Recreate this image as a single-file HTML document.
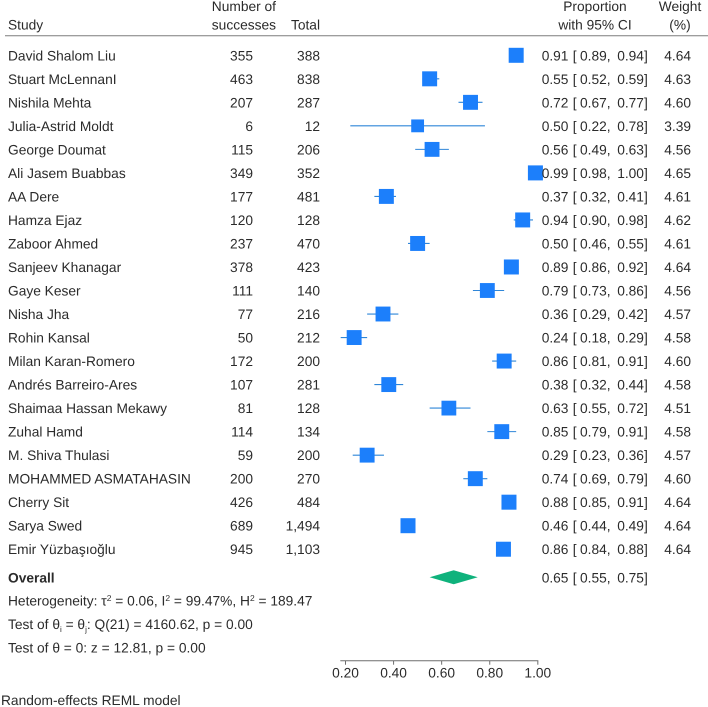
<!DOCTYPE html>
<html lang="en">
<head>
<meta charset="utf-8">
<title>Forest plot of proportions</title>
<style>
  html, body { margin: 0; padding: 0; background: #fff; }
  svg { display: block; }
  text { font-family: "Liberation Sans", "DejaVu Sans", sans-serif; font-size: 13.75px; fill: #2b2b2b; text-rendering: geometricPrecision; }
</style>
</head>
<body>
<svg id="chart" width="708" height="707" viewBox="0 0 708 707" xmlns="http://www.w3.org/2000/svg">
  <rect width="708" height="707" fill="#ffffff"/>
  <g>
    <text x="8" y="29.5">Study</text>
    <text x="276" y="11" text-anchor="end">Number of</text>
    <text x="276" y="29.5" text-anchor="end">successes</text>
    <text x="320" y="29.5" text-anchor="end">Total</text>
    <text x="595" y="11" text-anchor="middle">Proportion</text>
    <text x="595" y="29.5" text-anchor="middle">with 95% CI</text>
    <text x="680" y="11" text-anchor="middle">Weight</text>
    <text x="680" y="29.5" text-anchor="middle">(%)</text>
    <line x1="5" x2="708" y1="35.7" y2="35.7" stroke="#7d7d7d" stroke-width="1"/>
  </g>
  <g id="rows"></g>
  <g id="overall"></g>
  <g>
    <text x="8" y="605.6">Heterogeneity: τ<tspan dy="-4.5" font-size="8.5">2</tspan><tspan dy="4.5"> = 0.06, I</tspan><tspan dy="-4.5" font-size="8.5">2</tspan><tspan dy="4.5"> = 99.47%, H</tspan><tspan dy="-4.5" font-size="8.5">2</tspan><tspan dy="4.5"> = 189.47</tspan></text>
    <text x="8" y="629">Test of θ<tspan dy="3" font-size="8">i</tspan><tspan dy="-3"> = θ</tspan><tspan dy="3" font-size="8">j</tspan><tspan dy="-3">: Q(21) = 4160.62, p = 0.00</tspan></text>
    <text x="8" y="652.4">Test of θ = 0: z = 12.81, p = 0.00</text>
    <text x="1" y="705">Random-effects REML model</text>
  </g>
  <g id="axis"></g>
</svg>
<script>
const studies = ["David Shalom Liu","Stuart McLennanI","Nishila Mehta","Julia-Astrid Moldt","George Doumat","Ali Jasem Buabbas","AA Dere","Hamza Ejaz","Zaboor Ahmed","Sanjeev Khanagar","Gaye Keser","Nisha Jha","Rohin Kansal","Milan Karan-Romero","Andrés Barreiro-Ares","Shaimaa Hassan Mekawy","Zuhal Hamd","M. Shiva Thulasi","MOHAMMED ASMATAHASIN","Cherry Sit","Sarya Swed","Emir Yüzbaşıoğlu"];
const successes = ["355","463","207","6","115","349","177","120","237","378","111","77","50","172","107","81","114","59","200","426","689","945"];
const totals = ["388","838","287","12","206","352","481","128","470","423","140","216","212","200","281","128","134","200","270","484","1,494","1,103"];
const proportions = [0.91,0.55,0.72,0.50,0.56,0.99,0.37,0.937,0.50,0.89,0.79,0.356,0.236,0.86,0.38,0.63,0.85,0.29,0.74,0.88,0.46,0.857];
const lowers = [0.89,0.52,0.67,0.22,0.49,0.98,0.32,0.90,0.46,0.86,0.73,0.29,0.18,0.81,0.32,0.55,0.79,0.23,0.69,0.85,0.44,0.84];
const uppers = [0.94,0.59,0.77,0.78,0.63,1.00,0.41,0.98,0.55,0.92,0.86,0.42,0.29,0.91,0.44,0.72,0.91,0.36,0.79,0.91,0.49,0.88];
const weights = [4.64,4.63,4.60,3.39,4.56,4.65,4.61,4.62,4.61,4.64,4.56,4.57,4.58,4.60,4.58,4.51,4.58,4.57,4.60,4.64,4.64,4.64];
const overallEffect = [0.65];
const overallLower = [0.55];
const overallUpper = [0.75];
const tickValues = [0.20,0.40,0.60,0.80,1.00];

const SVG_NS = "http://www.w3.org/2000/svg";
const xScale = v => 345.5 + (v - 0.2) * 240.4;
const rowY = i => 55.3 + i * 23.52;
const markerSize = w => 15 * Math.sqrt(w / 4.64);
const TEXT_DROP = 5;

function make(parent, tag, attrs, content) {
  const el = document.createElementNS(SVG_NS, tag);
  for (const k in attrs) el.setAttribute(k, attrs[k]);
  if (content !== undefined) el.textContent = content;
  parent.appendChild(el);
  return el;
}

function ciCells(parent, y, p, lo, hi) {
  const base = y + TEXT_DROP;
  const a = make(parent, "text", { x: 541.7, y: base }, p.toFixed(2));
  
  
  const b = make(parent, "text", { x: 572.7, y: base }, "[");
  
  
  const c = make(parent, "text", { x: 580, y: base }, lo.toFixed(2) + ",");
  
  
  const d = make(parent, "text", { x: 617.2, y: base }, hi.toFixed(2) + "]");
  
  
}

const rowsGroup = document.getElementById("rows");
studies.forEach((name, i) => {
  const y = rowY(i);
  const base = y + TEXT_DROP;
  const row = make(rowsGroup, "g", {});
  
  

  const nameText = make(row, "text", { x: 8, y: base }, name);
  
  

  const succText = make(row, "text", { x: 253, y: base, "text-anchor": "end" }, successes[i]);
  
  

  const totalText = make(row, "text", { x: 320, y: base, "text-anchor": "end" }, totals[i]);
  
  

  const ci = make(row, "line", { x1: xScale(lowers[i]), x2: xScale(uppers[i]), y1: y, y2: y, stroke: "#2f86d8", "stroke-width": 1.1 });
  
  

  const s = markerSize(weights[i]);
  const marker = make(row, "rect", { x: xScale(proportions[i]) - s / 2, y: y - s / 2, width: s, height: s, fill: "#1c7ffb" });
  
  

  ciCells(row, y, proportions[i], lowers[i], uppers[i]);

  const weightText = make(row, "text", { x: 691, y: base, "text-anchor": "end" }, weights[i].toFixed(2));
  
  
});

const overallGroup = document.getElementById("overall");
const overallY = 577.3;
const overallLabel = make(overallGroup, "text", { x: 8, y: overallY + TEXT_DROP, "font-weight": "bold" }, "Overall");


const diamondPoints = [
  [xScale(overallLower[0]), overallY],
  [xScale(overallEffect[0]), overallY - 7],
  [xScale(overallUpper[0]), overallY],
  [xScale(overallEffect[0]), overallY + 7]
].map(p => p.join(",")).join(" ");
const diamond = make(overallGroup, "polygon", { points: diamondPoints, fill: "#0fb27c" });


ciCells(overallGroup, overallY, overallEffect[0], overallLower[0], overallUpper[0]);

const axisGroup = document.getElementById("axis");
const axisY = 660.7;
const axisLine = make(axisGroup, "line", { x1: 340.3, x2: xScale(1) + 0.5, y1: axisY, y2: axisY, stroke: "#6e6e6e", "stroke-width": 1 });


tickValues.forEach(v => {
  const tick = make(axisGroup, "line", { x1: xScale(v), x2: xScale(v), y1: axisY, y2: axisY + 4, stroke: "#6e6e6e", "stroke-width": 1 });
  
  
  const label = make(axisGroup, "text", { x: xScale(v), y: 677.3, "text-anchor": "middle" }, v.toFixed(2));
  
  
});
</script>
</body>
</html>
